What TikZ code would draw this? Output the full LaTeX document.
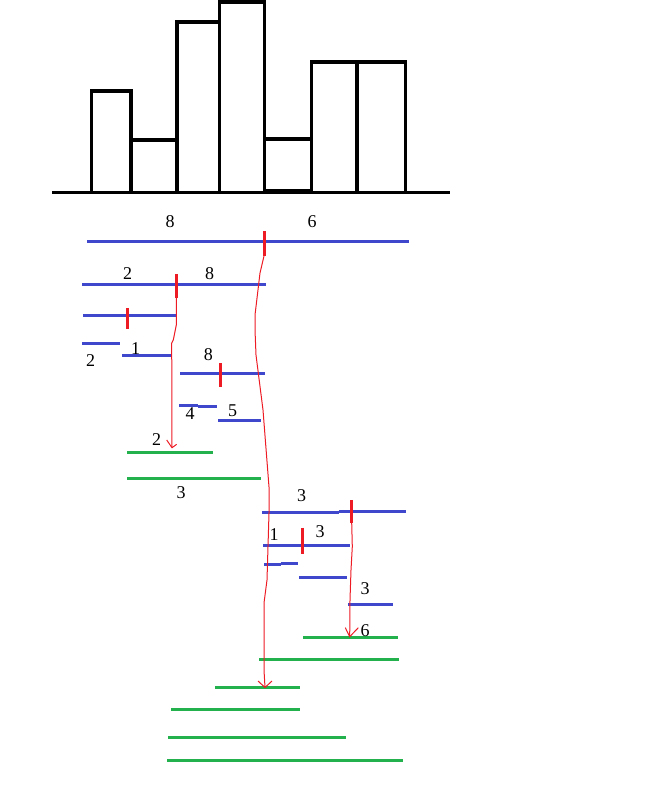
\documentclass[tikz,border=0pt]{standalone}
\usepackage{fontspec}
\setmainfont{Liberation Serif}
\begin{document}
\begin{tikzpicture}[x=1pt,y=-1pt,
  blk/.style={draw=black,line width=3.4pt},
  bl/.style={draw={rgb,255:red,63;green,72;blue,204},line width=3pt},
  gr/.style={draw={rgb,255:red,34;green,177;blue,76},line width=3pt},
  tick/.style={draw={rgb,255:red,237;green,28;blue,36},line width=3pt},
  rline/.style={draw={rgb,255:red,237;green,28;blue,36},line width=1pt},
  lab/.style={font=\fontsize{18}{18}\selectfont,inner sep=0pt}]
\useasboundingbox (0,0) rectangle (667,802);
% histogram
\draw[blk] (52,192.5) -- (450,192.5);
\draw[blk] (91.5,192.5) rectangle (131,91);
\draw[blk] (131,192.5) rectangle (177,140);
\draw[blk] (177,192.5) rectangle (219.5,22);
\draw[blk] (219.5,192.5) rectangle (264.5,2);
\draw[blk] (264.5,191) rectangle (311.5,139);
\draw[blk] (311.5,192.5) rectangle (357,62);
\draw[blk] (357,192.5) rectangle (405.5,62);
% blue segments
\draw[bl] (87,241.3) -- (409,241.3);
\node[lab] (l8a) at (170,222) {8};
\node[lab] (l6a) at (312,222) {6};
\draw[bl] (82,284.3) -- (265.7,284.3);
\node[lab] (l2b) at (127.7,274) {2};
\node[lab] (l8b) at (209.7,274) {8};
\draw[bl] (83,315.3) -- (176,315.3);
\draw[bl] (82,343.3) -- (120,343.3);
\node[lab] (l2d) at (90.7,361) {2};
\draw[bl] (122,355.3) -- (171,355.3);
\node[lab] (l1e) at (135.7,349) {1};
\draw[bl] (180,373.3) -- (265,373.3);
\node[lab] (l8f) at (208.3,354.3) {8};
\draw[bl] (179,405.3) -- (197.7,405.3);
\draw[bl] (197.7,406.7) -- (217,406.7);
\node[lab] (l4h) at (190,413.3) {4};
\draw[bl] (218,420.3) -- (261,420.3);
\node[lab] (l5i) at (232.7,411) {5};
\draw[bl] (262,512.3) -- (338.7,512.3);
\draw[bl] (338.7,511.3) -- (406,511.3);
\node[lab] (l3j) at (301.7,496) {3};
\draw[bl] (263,545.3) -- (350,545.3);
\node[lab] (l1k) at (274,535) {1};
\node[lab] (l3k) at (320,531.7) {3};
\draw[bl] (264,564.3) -- (280.7,564.3);
\draw[bl] (280.7,563) -- (298,563);
\draw[bl] (299,577.3) -- (347,577.3);
\node[lab] (l3n) at (365,588.3) {3};
\draw[bl] (348,604.3) -- (393,604.3);
% green segments
\draw[gr] (127,452.3) -- (213,452.3);
\node[lab] (l2g) at (156.7,440) {2};
\draw[gr] (127,478) -- (261,478);
\node[lab] (l3g) at (181,493) {3};
\draw[gr] (303,637.3) -- (398,637.3);
\node[lab] (l6g) at (365,630.3) {6};
\draw[gr] (259,659.3) -- (399,659.3);
\draw[gr] (215,687.3) -- (300,687.3);
\draw[gr] (171,709.3) -- (300,709.3);
\draw[gr] (168,737.3) -- (346,737.3);
\draw[gr] (167,760) -- (403,760);
% red ticks
\coordinate (tA1) at (264,231); \coordinate (tA2) at (264,256);
\coordinate (tB1) at (176.3,274); \coordinate (tB2) at (176.3,297.7);
\coordinate (tC1) at (127.3,308); \coordinate (tC2) at (127.3,328.7);
\coordinate (tF1) at (220.3,363.3); \coordinate (tF2) at (220.3,386.7);
\coordinate (tJ1) at (351.7,500); \coordinate (tJ2) at (351.7,522.7);
\coordinate (tK1) at (302.7,527.7); \coordinate (tK2) at (302.7,554);
\draw[tick] (tA1) -- (tA2);
\draw[tick] (tB1) -- (tB2);
\draw[tick] (tC1) -- (tC2);
\draw[tick] (tF1) -- (tF2);
\draw[tick] (tJ1) -- (tJ2);
\draw[tick] (tK1) -- (tK2);
% red arrows
\coordinate (pA) at (265,687.5);
\coordinate (pB) at (172,447.7);
\coordinate (pJ) at (349.7,636.7);
\draw[rline] (tA2) -- (260,273) -- (255,315) -- (255,330) -- (256,355) -- (263,410) -- (269,487) -- (269,513) -- (267,580) -- (264,603) -- (264,670) -- (pA);
\draw[rline] (258,681) -- (pA) -- (272,681);
\draw[rline] (tB2) -- (176.3,325) -- (173.3,340) -- (171.7,343) -- (pB);
\draw[rline] (166.7,440) -- (pB) -- (176.7,444.3);
\draw[rline] (tJ2) -- (352.3,546.7) -- (351,570) -- (350,600) -- (pJ);
\draw[rline] (345.3,627.7) -- (pJ) -- (358.3,627.7);
\end{tikzpicture}
\end{document}
